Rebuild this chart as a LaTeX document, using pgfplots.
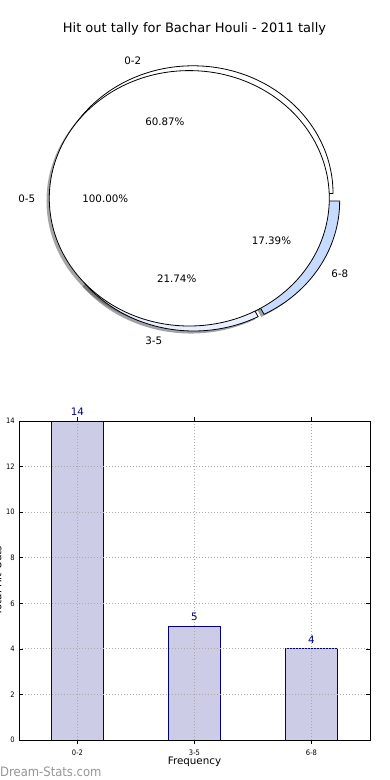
\documentclass[border=0pt]{standalone}
\usepackage{pgfplots}
\usepackage{pgfplotstable}
\pgfplotsset{compat=1.18}
\usepackage{fontspec}
\setmainfont{DejaVu Sans}
\newfontfamily\condfont{DejaVu Sans Condensed}
\pgfkeys{/pgf/number format/assume math mode=true}
\definecolor{barfill}{RGB}{204,204,230}
\definecolor{baredge}{RGB}{0,0,128}
\definecolor{sixeight}{RGB}{198,219,255}
\definecolor{threefive}{RGB}{232,239,255}
\definecolor{shsix}{RGB}{59,66,77}
\definecolor{shthree}{RGB}{70,72,77}
\definecolor{shwhite}{RGB}{77,77,77}
\definecolor{gridgray}{RGB}{170,170,170}
\definecolor{wmgray}{RGB}{150,150,150}

\pgfplotstableread{
cat val
0 14
1 5
2 4
}\bardata

\newcommand{\pieslice}[5]{%
  \fill[#5] (axis cs:#1,#2) -- (axis cs:{#1+cos(#3)},{#2+sin(#3)}) arc[start angle=#3, end angle=#4, x radius=140pt, y radius=127.7pt] -- cycle;}

\begin{document}
\begin{tikzpicture}
\useasboundingbox (0pt,0pt) rectangle (390pt,-780pt);
\node[anchor=base, font=\fontsize{13}{15}\selectfont] at (194.5pt,-32.5pt) {Hit out tally for Bachar Houli - 2011 tally};

% pie values
\pgfmathsetmacro{\va}{14}
\pgfmathsetmacro{\vb}{5}
\pgfmathsetmacro{\vc}{4}
\pgfmathsetmacro{\tot}{\va+\vb+\vc}
\pgfmathsetmacro{\aA}{0}
\pgfmathsetmacro{\aB}{360*\va/\tot}
\pgfmathsetmacro{\aC}{\aB+360*\vb/\tot}
\pgfmathsetmacro{\aD}{360}
\pgfmathsetmacro{\mA}{(\aA+\aB)/2}
\pgfmathsetmacro{\mB}{(\aB+\aC)/2}
\pgfmathsetmacro{\mC}{(\aC+\aD)/2}
\pgfmathsetmacro{\xA}{0.04*cos(\mA)}\pgfmathsetmacro{\yA}{0.04*sin(\mA)}
\pgfmathsetmacro{\xB}{0.04*cos(\mB)}\pgfmathsetmacro{\yB}{0.04*sin(\mB)}
\pgfmathsetmacro{\xC}{0.04*cos(\mC)}\pgfmathsetmacro{\yC}{0.04*sin(\mC)}
\pgfmathsetmacro{\sxA}{\xA-0.02}\pgfmathsetmacro{\syA}{\yA-0.02}
\pgfmathsetmacro{\sxB}{\xB-0.02}\pgfmathsetmacro{\syB}{\yB-0.02}
\pgfmathsetmacro{\sxC}{\xC-0.02}\pgfmathsetmacro{\syC}{\yC-0.02}
\pgfmathsetmacro{\pA}{100*\va/\tot}
\pgfmathsetmacro{\pB}{100*\vb/\tot}
\pgfmathsetmacro{\pC}{100*\vc/\tot}

\begin{axis}[at={(0pt,-30pt)}, anchor=north west, scale only axis, width=390pt, height=340pt,
  xmin=-1.3921, xmax=1.3936, ymin=-1.3446, ymax=1.3179, hide axis, clip=false]
% shadows
\pieslice{\sxA}{\syA}{\aA}{\aB}{shwhite, opacity=0.5}
\pieslice{\sxB}{\syB}{\aB}{\aC}{shthree, opacity=0.5}
\pieslice{\sxC}{\syC}{\aC}{\aD}{shsix, opacity=0.5}
\fill[shwhite, opacity=0.5] (axis cs:-0.06,-0.02) ellipse [x radius=140pt, y radius=127.7pt];
% wedges
\pieslice{\xA}{\yA}{\aA}{\aB}{white, draw=black, line width=0.8pt}
\pieslice{\xB}{\yB}{\aB}{\aC}{threefive, draw=black, line width=0.8pt}
\pieslice{\xC}{\yC}{\aC}{\aD}{sixeight, draw=black, line width=0.8pt}
\filldraw[fill=white, draw=black, line width=0.8pt] (axis cs:-0.04,0) ellipse [x radius=140pt, y radius=127.7pt];
% labels
\begin{scope}[every node/.style={inner sep=0pt, font=\fontsize{10.3}{12}\selectfont}]
\node[anchor=east] at (axis cs:{\xA+1.1*cos(\mA)},{\yA+1.1*sin(\mA)}) {0-2};
\node[anchor=east] at (axis cs:{\xB+1.1*cos(\mB)},{\yB+1.1*sin(\mB)}) {3-5};
\node[anchor=west] at (axis cs:{\xC+1.1*cos(\mC)},{\yC+1.1*sin(\mC)}) {6-8};
\node[anchor=east] at (axis cs:-1.14,0) {0-5};
\node at (axis cs:{\xA+0.6*cos(\mA)},{\yA+0.6*sin(\mA)}) {\pgfmathprintnumber[fixed, fixed zerofill, precision=2]{\pA}\%};
\node at (axis cs:{\xB+0.6*cos(\mB)},{\yB+0.6*sin(\mB)}) {\pgfmathprintnumber[fixed, fixed zerofill, precision=2]{\pB}\%};
\node at (axis cs:{\xC+0.6*cos(\mC)},{\yC+0.6*sin(\mC)}) {\pgfmathprintnumber[fixed, fixed zerofill, precision=2]{\pC}\%};
\node at (axis cs:-0.64,0) {100.00\%};
\end{scope}
\end{axis}

\begin{axis}[at={(19pt,-740pt)}, anchor=south west, scale only axis, width=351pt, height=319pt,
  xmin=-0.5, xmax=2.5, ymin=0, ymax=14,
  xtick={0,1,2}, xticklabels={0-2,3-5,6-8}, ytick={0,2,...,14},
  /pgf/number format/assume math mode=true,
  ymajorgrids, xmajorgrids,
  grid style={gridgray, line width=0.8pt, dash pattern=on 1pt off 2pt},
  axis on top, tick align=inside, major tick length=4pt,
  tick style={black, line width=0.6pt},
  axis line style={line width=0.8pt},
  ticklabel style={font=\condfont\fontsize{7.5}{9}\selectfont},
  yticklabel style={xshift=-0.8pt},
  xticklabel style={yshift=-2pt},
  xlabel={Frequency}, ylabel={Total Hit Outs},
  label style={font=\fontsize{10.3}{12}\selectfont},
  xlabel style={at={(axis description cs:0.5,0)}, anchor=base, yshift=-24pt},
  ylabel style={at={(axis description cs:-0.0499,0.5)}, anchor=base},
  ybar, bar width=0.4444,
]
\addplot[fill=barfill, draw=baredge, line width=0.8pt,
  nodes near coords, point meta=y,
  nodes near coords style={font=\fontsize{10.3}{12}\selectfont, text=baredge, anchor=south, inner sep=0pt, yshift=5pt, /pgf/number format/assume math mode=true}]
  table[x=cat, y=val]{\bardata};
\end{axis}

\node[anchor=base west, inner sep=0pt, text=wmgray, font=\condfont\fontsize{12.9}{15}\selectfont] at (0pt,-776pt) {Dream-Stats.com};
\end{tikzpicture}
\end{document}
